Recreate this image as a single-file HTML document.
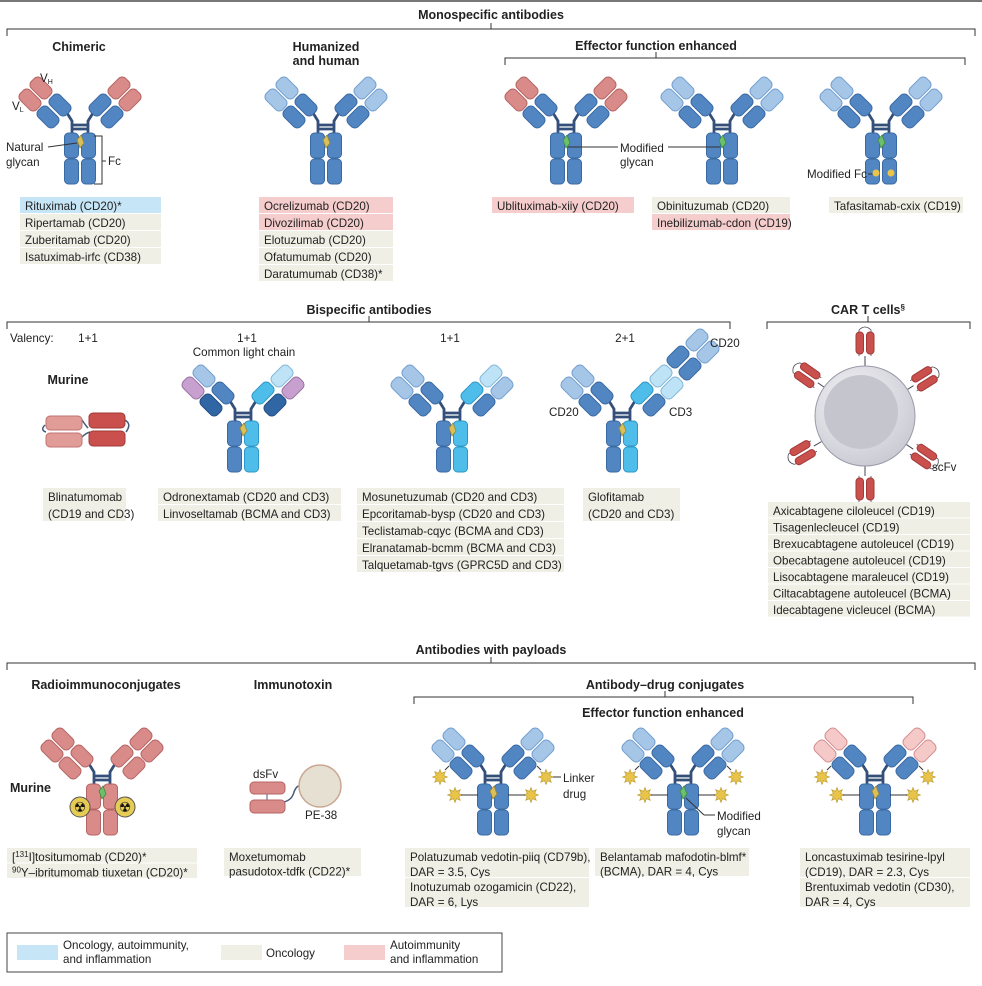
<!DOCTYPE html>
<html><head><meta charset="utf-8">
<style>
html,body{margin:0;padding:0;background:#fff;}
body{width:982px;height:986px;overflow:hidden;position:relative;font-family:"Liberation Sans",sans-serif;}
svg{position:absolute;left:0;top:0;}
text{font-family:"Liberation Sans",sans-serif;fill:#222;}
.b{font-weight:bold;font-size:12.5px;}
.t{font-size:11.6px;}
</style></head>
<body>
<svg id="s" width="982" height="986" viewBox="0 0 982 986" xmlns="http://www.w3.org/2000/svg"></svg>
<script>
const S=document.getElementById('s');let h='';
const C={db:['#5186c2','#3a6aa3'],lb:['#a6c6e8','#739fcf'],rd:['#d98b89','#b56563'],pk:['#f6c9c9','#d38f8f'],cy:['#4fbde9','#2d98c7'],pu:['#c7a0cf','#9a72a5'],nv:['#2f66a3','#234f82'],pc:['#bfe3f6','#82b8d8']};
function dom(x,y,a,c,w=23,hh=14){h+=`<rect x="${-w/2}" y="${-hh/2}" width="${w}" height="${hh}" rx="5" fill="${c[0]}" stroke="${c[1]}" stroke-width="1" transform="translate(${x},${y}) rotate(${a})"/>`;}
function ab(cx,t,o){
 const L=o.L||{vh:C.lb,vl:C.lb,ch:C.db,cl:C.db},R=o.R||L;
 const sl=o.sl||C.db,sr=o.sr||sl;
 h+=`<path d="M${cx-13},${t+36} L${cx-8},${t+44} V${t+57} M${cx+13},${t+36} L${cx+8},${t+44} V${t+57} M${cx-8},${t+48} H${cx+8} M${cx-8},${t+52} H${cx+8}" stroke="#34507a" stroke-width="2.8" fill="none"/>`;
 dom(cx-39,t+11,45,L.vh);dom(cx-50,t+23,45,L.vl);dom(cx-20,t+28,45,L.ch);dom(cx-32,t+40,45,L.cl);
 dom(cx+39,t+11,-45,R.vh);dom(cx+50,t+23,-45,R.vl);dom(cx+20,t+28,-45,R.ch);dom(cx+32,t+40,-45,R.cl);
 if(o.extra){const E=o.extra,d=36;dom(cx+39+d,t+11-d,-45,E.vh);dom(cx+50+d,t+23-d,-45,E.vl);dom(cx+20+d,t+28-d,-45,E.ch);dom(cx+32+d,t+40-d,-45,E.cl);}
 [[cx-15.5,sl],[cx+1.5,sr]].forEach(([x,c])=>{h+=`<rect x="${x}" y="${t+56}" width="14" height="25" rx="4" fill="${c[0]}" stroke="${c[1]}"/><rect x="${x}" y="${t+82}" width="14" height="25" rx="4" fill="${c[0]}" stroke="${c[1]}"/>`;});
 const g=o.g||'#d9c05a';
 h+=`<path d="M${cx-3},${t+63} L${cx+1},${t+58} L${cx+4},${t+66} L${cx},${t+71} Z" fill="${g}" stroke="${o.g?'#3f8a3f':'#9c8730'}" stroke-width="0.8"/>`;
}
function txt(x,y,s,cls='t',anc='start'){h+=`<text x="${x}" y="${y}" class="${cls}" text-anchor="${anc}">${s}</text>`;}
function br(x1,x2,y,cx){h+=`<path d="M${x1},${y+7} V${y} H${x2} V${y+7}" stroke="#333" fill="none" stroke-width="1"/>`;if(cx)h+=`<path d="M${cx},${y} V${y-6}" stroke="#333"/>`;}
function tbl(x,w,y,rows,rh=17){rows.forEach((r,i)=>{const c=r[1]=='b'?'#c6e5f6':r[1]=='p'?'#f6cdcd':'#efefe6';const lines=r[0].split('|');const hh=rh*lines.length;h+=`<rect x="${x}" y="${y}" width="${w}" height="${hh-1}" fill="${c}"/>`;lines.forEach((l,j)=>txt(x+5,y+13+j*rh,l));y+=hh;});}
function star(x,y){let p='';for(let i=0;i<16;i++){const r=i%2?4:7.5,a=i*Math.PI/8;p+=(x+r*Math.cos(a)).toFixed(1)+','+(y+r*Math.sin(a)).toFixed(1)+' ';}h+=`<polygon points="${p}" fill="#e8c44a" stroke="#b8962a" stroke-width="0.6"/>`;}
function ln(x1,y1,x2,y2,c='#333',w=1){h+=`<line x1="${x1}" y1="${y1}" x2="${x2}" y2="${y2}" stroke="${c}" stroke-width="${w}"/>`;}

h+=`<rect x="0" y="0" width="982" height="2" fill="#777"/>`;
txt(491,19,'Monospecific antibodies','b','middle');br(7,975,29,491);
txt(79,51,'Chimeric','b','middle');txt(326,51,'Humanized','b','middle');txt(326,65,'and human','b','middle');
txt(656,50,'Effector function enhanced','b','middle');br(505,965,58,656);
const CHI={vh:C.rd,vl:C.rd,ch:C.db,cl:C.db};
ab(80,77,{L:CHI});ab(326,77,{});ab(566,77,{L:CHI,g:'#6cc06c'});ab(722,77,{g:'#6cc06c'});ab(881,77,{g:'#6cc06c'});
h+=`<text x="40" y="82" class="t" font-size="11">V<tspan font-size="7" dy="2">H</tspan></text><text x="12" y="110" class="t" font-size="11">V<tspan font-size="7" dy="2">L</tspan></text>`;
txt(6,151,'Natural');txt(6,166,'glycan');ln(48,147,77,143);
h+=`<path d="M94,136 H102 V184 H94 M102,161 H106" stroke="#333" fill="none"/>`;txt(108,165,'Fc');
ln(568,147,618,147);txt(620,152,'Modified');txt(620,166,'glycan');ln(668,147,720,147);
txt(807,178,'Modified Fc');ln(868,174,873,174);
h+=`<circle cx="876" cy="173" r="3.5" fill="#e8c44a"/><circle cx="891" cy="173" r="3.5" fill="#e8c44a"/>`;
tbl(20,141,197,[['Rituximab (CD20)*','b'],['Ripertamab (CD20)'],['Zuberitamab (CD20)'],['Isatuximab-irfc (CD38)']]);
tbl(259,134,197,[['Ocrelizumab (CD20)','p'],['Divozilimab (CD20)','p'],['Elotuzumab (CD20)'],['Ofatumumab (CD20)'],['Daratumumab (CD38)*']]);
tbl(492,142,197,[['Ublituximab-xiiy (CD20)','p']]);
tbl(652,138,197,[['Obinituzumab (CD20)'],['Inebilizumab-cdon (CD19)','p']]);
tbl(829,134,197,[['Tafasitamab-cxix (CD19)']]);

txt(369,314,'Bispecific antibodies','b','middle');br(7,730,322,369);
txt(868,314,'CAR T cells<tspan font-size="8" dy="-4">§</tspan>','b','middle');br(767,970,322,868);
txt(10,342,'Valency:');txt(88,342,'1+1','t','middle');txt(247,342,'1+1','t','middle');txt(450,342,'1+1','t','middle');txt(625,342,'2+1','t','middle');
txt(244,356,'Common light chain','t','middle');txt(68,384,'Murine','b','middle');
ab(243,365,{L:{vh:C.lb,vl:C.pu,ch:C.db,cl:C.nv},R:{vh:C.pc,vl:C.pu,ch:C.cy,cl:C.nv},sl:C.db,sr:C.cy});
ab(452,365,{L:{vh:C.lb,vl:C.lb,ch:C.db,cl:C.db},R:{vh:C.pc,vl:C.lb,ch:C.cy,cl:C.db},sl:C.db,sr:C.cy});
ab(622,365,{L:{vh:C.lb,vl:C.lb,ch:C.db,cl:C.db},R:{vh:C.pc,vl:C.pc,ch:C.cy,cl:C.db},extra:{vh:C.lb,vl:C.lb,ch:C.db,cl:C.db},sl:C.db,sr:C.cy});
txt(710,347,'CD20');txt(549,416,'CD20');txt(669,416,'CD3');
h+=`<path d="M45,425 Q40,430 46,432 M82,420 Q86,426 88,428 M82,437 Q86,433 90,432 M125,420 Q132,424 126,432" stroke="#455a7a" fill="none" stroke-width="1.5"/>`;
h+=`<rect x="46" y="416" width="36" height="14" rx="4" fill="#e29c98" stroke="#c07370"/><rect x="46" y="433" width="36" height="14" rx="4" fill="#e29c98" stroke="#c07370"/><rect x="89" y="413" width="36" height="15" rx="4" fill="#c9504d" stroke="#a33a38"/><rect x="89" y="431" width="36" height="15" rx="4" fill="#c9504d" stroke="#a33a38"/>`;
tbl(43,83,488,[['Blinatumomab|(CD19 and CD3)']]);
tbl(158,183,488,[['Odronextamab (CD20 and CD3)'],['Linvoseltamab (BCMA and CD3)']]);
tbl(357,207,488,[['Mosunetuzumab (CD20 and CD3)'],['Epcoritamab-bysp (CD20 and CD3)'],['Teclistamab-cqyc (BCMA and CD3)'],['Elranatamab-bcmm (BCMA and CD3)'],['Talquetamab-tgvs (GPRC5D and CD3)']]);
tbl(583,97,488,[['Glofitamab|(CD20 and CD3)']]);
h+=`<defs><radialGradient id="cg" cx="0.4" cy="0.35" r="0.7"><stop offset="0" stop-color="#f4f4f7"/><stop offset="1" stop-color="#c9c9d2"/></radialGradient></defs>`;
[[0,-1],[-0.78,-0.55],[0.8,-0.5],[-0.85,0.5],[0.8,0.55],[0,1]].forEach(([dx,dy])=>{const a=Math.atan2(dy,dx)*180/Math.PI+90;const x=865+dx*50,y=416+dy*50;
h+=`<g transform="translate(${x},${y}) rotate(${a})"><line x1="0" y1="0" x2="0" y2="-10" stroke="#445" /><path d="M-6,-10 V-36 M6,-10 V-36 M-6,-36 Q0,-42 6,-36" stroke="#445" fill="none" stroke-width="0.8"/><rect x="-9" y="-34" width="7.5" height="22" rx="3.5" fill="#c9504d" stroke="#a33a38"/><rect x="1.5" y="-34" width="7.5" height="22" rx="3.5" fill="#c9504d" stroke="#a33a38"/></g>`;});
h+=`<circle cx="865" cy="416" r="50" fill="url(#cg)" stroke="#9a9aaa"/><circle cx="861" cy="412" r="37" fill="#c5c5ce"/>`;
txt(932,471,'scFv');
tbl(768,202,502,[['Axicabtagene ciloleucel (CD19)'],['Tisagenlecleucel (CD19)'],['Brexucabtagene autoleucel (CD19)'],['Obecabtagene autoleucel (CD19)'],['Lisocabtagene maraleucel (CD19)'],['Ciltacabtagene autoleucel (BCMA)'],['Idecabtagene vicleucel (BCMA)']],16.5);

txt(491,654,'Antibodies with payloads','b','middle');br(7,975,663,491);
txt(106,689,'Radioimmunoconjugates','b','middle');txt(293,689,'Immunotoxin','b','middle');
txt(665,689,'Antibody–drug conjugates','b','middle');br(414,913,697,665);
txt(663,717,'Effector function enhanced','b','middle');
ab(102,728,{L:{vh:C.rd,vl:C.rd,ch:C.rd,cl:C.rd},sl:C.rd,g:'#6cc06c'});
[80,125].forEach(x=>{h+=`<circle cx="${x}" cy="807" r="10" fill="#e6cc55" stroke="#555"/><text x="${x}" y="812" font-size="14" text-anchor="middle" style="fill:#111;font-family:'DejaVu Sans'">☢</text>`;});
txt(10,792,'Murine','b');
h+=`<path d="M284,802 Q292,800 294,792 Q297,784 302,786" stroke="#455a7a" fill="none" stroke-width="1.5"/><path d="M267,794 V800" stroke="#455a7a"/>`;
h+=`<rect x="250" y="782" width="35" height="12" rx="4" fill="#d98b89" stroke="#b56563"/><rect x="250" y="800" width="35" height="13" rx="4" fill="#d98b89" stroke="#b56563"/><circle cx="320" cy="786" r="21" fill="#e5e0d2" stroke="#c9a792" stroke-width="1.5"/>`;
txt(253,778,'dsFv');txt(305,819,'PE-38');
const ADC=[493,683,875];
ab(ADC[0],728,{});ab(ADC[1],728,{g:'#6cc06c'});ab(ADC[2],728,{L:{vh:C.pk,vl:C.pk,ch:C.db,cl:C.db}});
ADC.forEach(cx=>{star(cx-53,777);star(cx+53,777);ln(cx-48,770,cx-44,766);ln(cx+48,770,cx+44,766);star(cx-38,795);star(cx+38,795);ln(cx-32,795,cx-15,795);ln(cx+32,795,cx+15,795);});
ln(553,777,561,777);txt(563,782,'Linker');txt(563,798,'drug');
ln(686,798,704,815);ln(704,815,715,815);txt(717,820,'Modified');txt(717,835,'glycan');
tbl(7,190,848,[['[<tspan font-size="8" dy="-4">131</tspan><tspan dy="4">I]tositumomab (CD20)*</tspan>'],['<tspan font-size="8" dy="-4">90</tspan><tspan dy="4">Y–ibritumomab tiuxetan (CD20)*</tspan>']],15.5);
tbl(224,137,848,[['Moxetumomab|pasudotox-tdfk (CD22)*']],14.5);
tbl(405,184,848,[['Polatuzumab vedotin-piiq (CD79b),|DAR = 3.5, Cys'],['Inotuzumab ozogamicin (CD22),|DAR = 6, Lys']],15);
tbl(595,154,848,[['Belantamab mafodotin-blmf*|(BCMA), DAR = 4, Cys']],14.5);
tbl(800,170,848,[['Loncastuximab tesirine-lpyl|(CD19), DAR = 2.3, Cys'],['Brentuximab vedotin (CD30),|DAR = 4, Cys']],15);
h+=`<rect x="7" y="933" width="495" height="39" fill="#fff" stroke="#444"/><rect x="17" y="945" width="41" height="15" fill="#c6e5f6"/><rect x="221" y="945" width="41" height="15" fill="#efefe6"/><rect x="344" y="945" width="41" height="15" fill="#f6cdcd"/>`;
txt(63,949,'Oncology, autoimmunity,');txt(63,963,'and inflammation');txt(266,957,'Oncology');txt(390,949,'Autoimmunity');txt(390,963,'and inflammation');
S.innerHTML=h;
</script>
</body></html>
